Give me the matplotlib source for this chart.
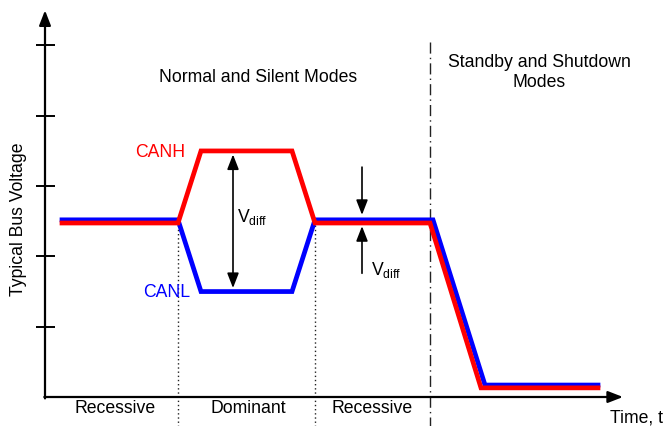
import matplotlib
matplotlib.use("Agg")
import matplotlib.pyplot as plt

plt.rcParams['font.family'] = ['Liberation Sans', 'DejaVu Sans']

# Data (time in arbitrary units, voltage in arbitrary units)
canh_t = [1.7, 13.3, 15.6, 24.7, 27.0, 38.5, 43.6, 55.3]
canh_v = [2.475, 2.475, 3.5, 3.5, 2.475, 2.475, 0.13, 0.13]
canl_t = [1.7, 13.3, 15.6, 24.7, 27.0, 38.8, 44.0, 55.3]
canl_v = [2.52, 2.52, 1.5, 1.5, 2.52, 2.52, 0.17, 0.17]
y_ticks = [1, 2, 3, 4, 5]
bit_bounds = [13.3, 27.0]
mode_bound = 38.5
bit_labels = ["Recessive", "Dominant", "Recessive"]
bit_label_t = [7.0, 20.3, 32.7]

fig = plt.figure(figsize=(6.65, 4.26), dpi=100)
ax = fig.add_axes([0, 0, 1, 1])
ax.set_xlim(-4.5, 62.0)
ax.set_ylim(-0.4125, 5.647)
ax.axis('off')

# vertical separators
for b in bit_bounds:
    ax.plot([b, b], [2.5, -0.42], color='#222222', lw=1.0, ls=(0, (1, 2)))
ax.plot([mode_bound, mode_bound], [5.05, -0.42], color='#222222', lw=1.0,
        ls=(0, (8, 3, 1, 3)))

# axes with arrows
ax.annotate('', xy=(0, 5.5), xytext=(0, -0.02),
            arrowprops=dict(arrowstyle='-|>,head_length=0.9,head_width=0.35',
                            color='black', lw=1.6, shrinkA=0, shrinkB=0))
ax.annotate('', xy=(57.8, 0), xytext=(-0.07, 0),
            arrowprops=dict(arrowstyle='-|>,head_length=0.9,head_width=0.35',
                            color='black', lw=1.6, shrinkA=0, shrinkB=0))
ax.hlines(y_ticks, -0.9, 1.0, color='black', lw=1.4)

# signals
ax.plot(canl_t, canl_v, color='#0000ff', lw=3.4, solid_joinstyle='miter')
ax.plot(canh_t, canh_v, color='#ff0000', lw=3.4, solid_joinstyle='miter')

# Vdiff arrows
ax.annotate('', xy=(18.8, 3.45), xytext=(18.8, 1.55),
            arrowprops=dict(arrowstyle='<|-|>,head_length=0.9,head_width=0.35',
                            color='black', lw=1.2, shrinkA=0, shrinkB=0))
ax.annotate('', xy=(31.7, 2.59), xytext=(31.7, 3.27),
            arrowprops=dict(arrowstyle='-|>,head_length=0.9,head_width=0.35',
                            color='black', lw=1.2, shrinkA=0, shrinkB=0))
ax.annotate('', xy=(31.7, 2.43), xytext=(31.7, 1.76),
            arrowprops=dict(arrowstyle='-|>,head_length=0.9,head_width=0.35',
                            color='black', lw=1.2, shrinkA=0, shrinkB=0))

fs = 12.7
ax.text(19.2, 2.56, r'V$_{\mathregular{diff}}$', fontsize=fs, ha='left', va='center')
ax.text(32.6, 1.81, r'V$_{\mathregular{diff}}$', fontsize=fs, ha='left', va='center')

ax.text(14.0, 3.48, 'CANH', color='#ff0000', fontsize=fs, ha='right', va='center')
ax.text(14.5, 1.49, 'CANL', color='#0000ff', fontsize=fs, ha='right', va='center')

ax.text(21.3, 4.55, 'Normal and Silent Modes', fontsize=fs, ha='center', va='center')
ax.text(49.4, 4.62, 'Standby and Shutdown\nModes', fontsize=fs, ha='center',
        va='center', linespacing=1.2)

for lab, t in zip(bit_labels, bit_label_t):
    ax.text(t, -0.17, lab, fontsize=fs, ha='center', va='center')
ax.text(61.85, -0.30, 'Time, t', fontsize=fs, ha='right', va='center')
ax.text(-2.6, 2.53, 'Typical Bus Voltage', fontsize=fs, ha='center', va='center',
        rotation=90)

fig.savefig('out.png', dpi=100)
